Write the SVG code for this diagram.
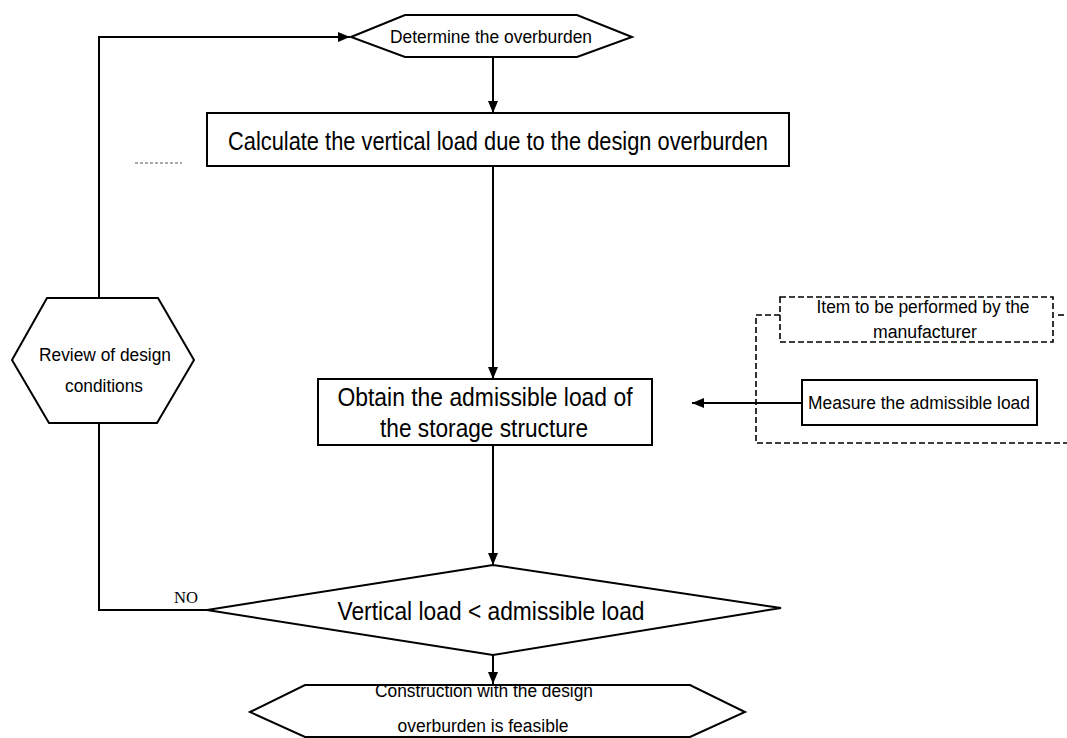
<svg xmlns="http://www.w3.org/2000/svg" width="1067" height="738" viewBox="0 0 1067 738">
  <defs>
    <marker id="arrow" viewBox="0 0 12 10" refX="12" refY="5" markerWidth="12" markerHeight="10" markerUnits="userSpaceOnUse" orient="auto">
      <path d="M0,0 L12,5 L0,10 Z" fill="#000"/>
    </marker>
    <style>
      .shape { fill: #fff; stroke: #000; stroke-width: 2; }
      .line { fill: none; stroke: #000; stroke-width: 2; }
      .dash { fill: none; stroke: #000; stroke-width: 1.6; stroke-dasharray: 6 3; }
      .t { font-family: "Liberation Sans Narrow", "Liberation Sans", Arial, sans-serif; fill: #000; text-anchor: middle; }
      .s { font-size: 18px; }
      .l { font-size: 25px; }
      .serif { font-family: "Liberation Serif", "DejaVu Serif", serif; font-size: 17px; fill: #000; text-anchor: middle; }
    </style>
  </defs>
  <rect width="1067" height="738" fill="#fff"/>

  <!-- connectors -->
  <g id="connectors">
    <path class="line" d="M99,298 L99,37 L350,37" marker-end="url(#arrow)"/>
    <path class="line" d="M493,57 L493,113" marker-end="url(#arrow)"/>
    <path class="line" d="M493,166 L493,379" marker-end="url(#arrow)"/>
    <path class="line" d="M493,445 L493,565" marker-end="url(#arrow)"/>
    <path class="line" d="M207,610 L99,610 L99,423"/>
    <path class="line" d="M493,655 L493,684" marker-end="url(#arrow)"/>
    <path class="line" d="M802,403 L692,403" marker-end="url(#arrow)"/>
    <!-- manufacturer scope outline -->
    <path class="dash" d="M780,315 L756,315 L756,443 L1067,443"/>
    <path class="dash" d="M1058,315 L1066,315"/>
    <path d="M135,163 L182,163" stroke="#555" stroke-width="1" stroke-dasharray="3 2" fill="none"/>
    <text class="serif" x="186" y="603" textLength="24" lengthAdjust="spacingAndGlyphs">NO</text>
    <text class="serif" x="526" y="642" textLength="36" lengthAdjust="spacingAndGlyphs">YES</text>
  </g>

  <g id="determine">
    <polygon class="shape" points="351,37 405,15 577,15 632,37 577,57 405,57"/>
    <text class="t s" x="491" y="43" textLength="202" lengthAdjust="spacingAndGlyphs">Determine the overburden</text>
  </g>

  <g id="calculate">
    <rect class="shape" x="207" y="113" width="582" height="53"/>
    <text class="t l" x="498" y="150" textLength="540" lengthAdjust="spacingAndGlyphs">Calculate the vertical load due to the design overburden</text>
  </g>

  <g id="review">
    <polygon class="shape" points="12,360 47,298 158,298 194,360 157,423 49,423"/>
    <text class="t s" x="105" y="361" textLength="132" lengthAdjust="spacingAndGlyphs">Review of design</text>
    <text class="t s" x="104" y="392" textLength="78" lengthAdjust="spacingAndGlyphs">conditions</text>
  </g>

  <g id="obtain">
    <rect class="shape" x="318" y="379" width="334" height="66"/>
    <text class="t l" x="485" y="406" textLength="295" lengthAdjust="spacingAndGlyphs">Obtain the admissible load of</text>
    <text class="t l" x="484" y="437" textLength="208" lengthAdjust="spacingAndGlyphs">the storage structure</text>
  </g>

  <g id="manufacturer-item">
    <rect class="dash" x="780" y="297" width="273" height="45" fill="#fff"/>
    <text class="t s" x="923" y="313" textLength="213" lengthAdjust="spacingAndGlyphs">Item to be performed by the</text>
    <text class="t s" x="925" y="338" textLength="104" lengthAdjust="spacingAndGlyphs">manufacturer</text>
  </g>

  <g id="measure">
    <rect class="shape" x="802" y="380" width="235" height="45"/>
    <text class="t s" x="919" y="409" textLength="222" lengthAdjust="spacingAndGlyphs">Measure the admissible load</text>
  </g>

  <g id="decision">
    <polygon class="shape" points="207,610 493,565 781,608 493,655"/>
    <text class="t l" x="491" y="620" textLength="307" lengthAdjust="spacingAndGlyphs">Vertical load &lt; admissible load</text>
  </g>

  <g id="feasible">
    <polygon class="shape" points="250,712 305,685 690,685 745,712 690,737 305,737"/>
    <text class="t s" x="484" y="697" textLength="218" lengthAdjust="spacingAndGlyphs">Construction with the design</text>
    <text class="t s" x="483" y="732" textLength="171" lengthAdjust="spacingAndGlyphs">overburden is feasible</text>
  </g>
</svg>
